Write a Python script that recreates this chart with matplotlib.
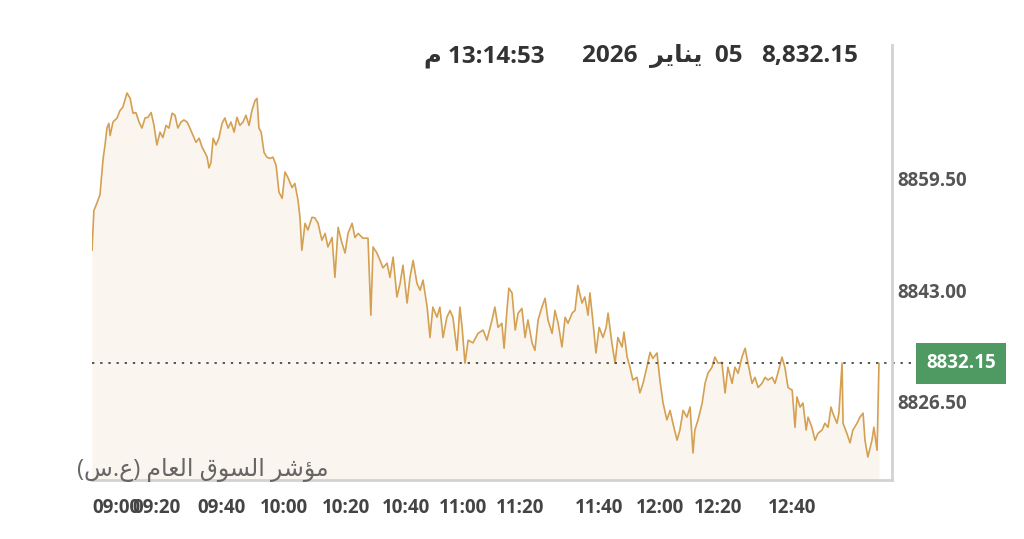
import matplotlib.pyplot as plt
from matplotlib.transforms import blended_transform_factory

# position along the session (chart units, 09:00 = 0) and index values
pos = [0.0, 0.6, 1.3, 2.5, 3.5, 4.1, 4.7, 5.3, 5.7, 6.6, 7.9, 8.8, 9.7, 11.0, 12.0, 12.9, 13.8, 14.8,
       15.7, 16.7, 17.6, 18.6, 19.5, 20.4, 21.4, 22.3, 23.3, 24.2, 25.2, 26.1, 27.0, 28.0, 28.9, 29.9,
       30.8, 31.8, 32.7, 33.7, 34.6, 35.5, 36.2, 36.8, 37.4, 38.1, 39.0, 39.9, 40.9, 41.8, 42.8, 43.7,
       44.7, 45.6, 46.5, 47.5, 48.4, 49.4, 50.3, 51.3, 51.9, 52.5, 53.2, 54.1, 55.0, 56.0, 56.9, 57.9,
       58.8, 59.8, 60.7, 61.6, 62.9, 63.8, 64.8, 65.4, 66.0, 67.0, 67.9, 69.2, 70.1, 71.1, 72.3, 73.3,
       74.2, 75.5, 76.4, 77.4, 78.6, 79.6, 80.5, 81.8, 82.7, 83.7, 85.2, 86.8, 87.7, 88.4, 89.6, 90.6,
       91.5, 92.8, 93.7, 94.7, 95.9, 96.9, 97.8, 99.1, 100.0, 101.0, 102.2, 103.2, 104.1, 105.4, 106.3,
       107.2, 108.5, 109.4, 110.4, 111.6, 112.6, 113.5, 114.8, 115.7, 116.4, 117.3, 118.3, 119.8, 121.4,
       123.0, 124.2, 125.8, 126.7, 127.7, 128.9, 129.6, 130.5, 131.1, 132.1, 133.1, 134.0, 135.2, 136.2,
       137.1, 138.4, 139.3, 140.3, 141.5, 142.5, 143.4, 144.7, 145.6, 146.6, 147.8, 148.8, 149.7, 151.0,
       151.9, 152.8, 154.1, 155.0, 156.0, 156.6, 157.6, 158.5, 159.5, 160.7, 161.7, 162.3, 163.5, 164.5,
       165.4, 166.7, 167.3, 168.3, 169.2, 170.1, 171.4, 172.3, 173.3, 174.5, 175.5, 176.4, 177.7, 178.6,
       179.6, 180.8, 181.8, 182.7, 184.0, 184.9, 185.9, 187.1, 188.1, 189.0, 189.6, 190.6, 191.9, 192.8,
       193.7, 195.0, 195.9, 196.9, 198.1, 199.1, 200.0, 201.3, 202.2, 203.2, 204.4, 205.4, 206.3, 207.6,
       208.5, 209.5, 210.7, 211.7, 212.6, 213.9, 214.8, 215.7, 217.0, 217.9, 218.9, 220.2, 221.1, 221.7,
       222.7, 223.6, 224.6, 225.2, 226.4, 227.4, 228.3, 229.6, 230.5, 231.5, 232.4, 233.0, 234.3, 234.9,
       235.9, 236.2, 237.4, 238.4, 239.3, 240.6, 241.5, 242.5, 243.1, 244.0, 245.3, 245.9, 246.9, 247.5]

vals = [8848.9, 8854.8, 8855.6, 8857.1, 8862.5, 8864.5, 8867.0, 8867.7, 8865.9, 8867.9, 8868.5, 8869.6,
        8870.1, 8872.2, 8871.4, 8869.2, 8869.3, 8867.9, 8867.0, 8868.5, 8868.6, 8869.3, 8867.4, 8864.5,
        8866.4, 8865.6, 8867.4, 8867.0, 8869.2, 8868.9, 8867.0, 8867.9, 8868.2, 8867.9, 8867.0, 8865.9,
        8864.9, 8865.5, 8864.2, 8863.4, 8862.7, 8861.1, 8861.9, 8865.5, 8864.5, 8865.5, 8867.7, 8868.5,
        8867.0, 8867.9, 8866.4, 8868.6, 8867.4, 8867.9, 8868.9, 8867.4, 8869.6, 8871.1, 8871.4, 8867.0,
        8866.4, 8863.4, 8862.7, 8862.5, 8862.7, 8861.5, 8857.5, 8856.6, 8860.5, 8859.7, 8858.2, 8858.8,
        8856.3, 8853.8, 8848.9, 8852.9, 8851.9, 8853.8, 8853.7, 8852.9, 8850.4, 8851.4, 8849.4, 8850.8,
        8844.9, 8852.3, 8850.0, 8848.5, 8851.4, 8852.9, 8850.8, 8851.4, 8850.7, 8850.7, 8839.3, 8849.4,
        8848.5, 8847.4, 8846.3, 8847.0, 8844.9, 8847.9, 8842.0, 8844.0, 8846.7, 8841.1, 8844.9, 8847.4,
        8844.0, 8843.0, 8844.5, 8840.5, 8836.0, 8840.5, 8839.0, 8840.5, 8836.0, 8839.0, 8840.0, 8839.0,
        8834.1, 8840.5, 8837.5, 8832.2, 8835.6, 8835.2, 8836.6, 8837.1, 8835.6, 8838.6, 8840.5, 8837.5,
        8838.1, 8834.4, 8840.0, 8843.3, 8842.6, 8837.1, 8839.6, 8840.3, 8836.0, 8838.6, 8835.2, 8834.1,
        8838.6, 8840.5, 8841.8, 8838.6, 8836.6, 8840.0, 8838.1, 8834.6, 8839.0, 8838.1, 8839.6, 8840.0,
        8843.7, 8841.1, 8842.0, 8839.3, 8842.6, 8838.1, 8833.7, 8837.5, 8836.0, 8837.5, 8839.6, 8835.2,
        8832.2, 8836.0, 8834.6, 8836.8, 8833.1, 8831.6, 8829.7, 8830.1, 8827.8, 8829.2, 8831.6, 8833.8,
        8832.9, 8833.7, 8829.7, 8826.3, 8823.8, 8825.2, 8823.3, 8820.8, 8822.3, 8825.2, 8824.2, 8825.7,
        8818.9, 8822.3, 8823.8, 8826.3, 8829.2, 8830.7, 8831.6, 8833.1, 8832.2, 8832.3, 8827.8, 8831.6,
        8829.2, 8831.6, 8830.7, 8833.1, 8834.4, 8832.2, 8829.2, 8830.1, 8828.6, 8829.2, 8830.1, 8829.7,
        8830.1, 8829.2, 8830.7, 8833.1, 8831.6, 8828.6, 8828.2, 8822.7, 8827.2, 8825.7, 8826.3, 8822.3,
        8824.2, 8822.7, 8820.8, 8821.8, 8822.3, 8823.3, 8822.7, 8825.7, 8824.8, 8823.3, 8824.8, 8832.2,
        8823.3, 8821.8, 8820.4, 8822.3, 8823.3, 8824.2, 8824.8, 8820.8, 8818.3, 8820.8, 8822.7, 8819.3,
        8832.15]

tick_pos = [0.0, 20.4, 40.6, 60.4, 80.0, 98.8, 116.7, 134.6, 159.5, 178.6, 196.9, 220.2]
tick_labels = ["09:00", "09:20", "09:40", "10:00", "10:20", "10:40", "11:00", "11:20",
               "11:40", "12:00", "12:20", "12:40"]
y_ticks = [8826.50, 8843.00, 8859.50]

last = vals[-1]
fam = ["Open Sans", "DejaVu Sans"]

# arabic text in visual order (presentation forms)
yanayer = "\uFEAE\uFEF3\uFE8E\uFEE8\uFEF3"
index_name = ("(\uFEB1.\uFEC9) " + "\uFEE1\uFE8E\uFECC\uFEDF\uFE8D" + " "
              + "\uFED5\uFEEE\uFEB4\uFEDF\uFE8D" + " " + "\uFEAE\uFEB7\uFE86\uFEE3")

fig = plt.figure(figsize=(10.24, 5.39), dpi=100)
ax = fig.add_axes([92 / 1024, 1 - 480 / 539, 800 / 1024, 435 / 539])

ax.fill_between(pos, vals, 8800, color="#faf5ef", lw=0)
ax.plot(pos, vals, color="#d4a052", lw=1.2)

ax.set_xlim(0, 251.6)
ax.set_ylim(8814.9, 8879.3)

for s in ["top", "left"]:
    ax.spines[s].set_visible(False)
for s in ["bottom", "right"]:
    ax.spines[s].set_color("#d2d2d2")
    ax.spines[s].set_linewidth(2)

ax.yaxis.tick_right()
ax.set_yticks(y_ticks)
ax.set_yticklabels([f"{v:.2f}" for v in y_ticks], fontsize=13.5, fontweight="bold",
                   color="#555555", family=fam)
ax.set_xticks(tick_pos)
ax.set_xticklabels(tick_labels, fontsize=13.5, fontweight="bold", color="#444444", family=fam)
ax.tick_params(axis="x", length=0, pad=13)
ax.tick_params(axis="y", length=0, pad=4)
ax.get_xticklabels()[0].set_ha("left")

# last price line and tag
ax.axhline(last, xmin=0, xmax=1.034, color="#555555", lw=1.4, ls=(0, (1.2, 3)), clip_on=False)
trans = blended_transform_factory(ax.transAxes, ax.transData)
ax.text(1.043, last, f"{last:.2f}", transform=trans, ha="left", va="center", fontsize=13.5,
        fontweight="bold", color="white", family=fam,
        bbox=dict(boxstyle="square,pad=0.55", fc="#4e9a62", ec="none"))

# header
fig.text(858 / 1024, 1 - 56 / 539, "8,832.15", ha="right", va="center", fontsize=17.5,
         fontweight="bold", color="#333333", family=fam)
fig.text(742 / 1024, 1 - 56 / 539, "2026  " + yanayer + "  05", ha="right", va="center",
         fontsize=17.5, fontweight="bold", color="#333333", family=fam)
fig.text(545 / 1024, 1 - 56 / 539, "\uFEE1 13:14:53", ha="right", va="center", fontsize=17.5,
         fontweight="bold", color="#333333", family=fam)

fig.text(77 / 1024, 1 - 470 / 539, index_name, ha="left", va="center", fontsize=17,
         color="#666666", family=fam)

fig.savefig("out.png", dpi=100, facecolor="white")
